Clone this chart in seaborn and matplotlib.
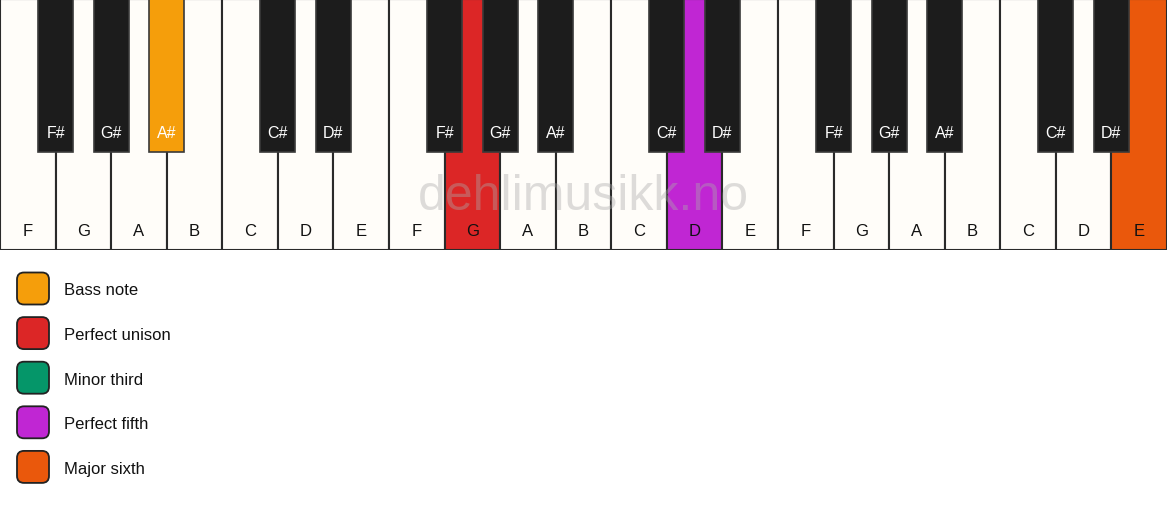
import matplotlib
matplotlib.use('Agg')
import matplotlib.pyplot as plt
import seaborn as sns
from matplotlib.patches import FancyBboxPatch

# Данные клавиатуры
white_notes = ['F', 'G', 'A', 'B', 'C', 'D', 'E'] * 3
black_notes = ['F#', 'G#', 'A#', 'C#', 'D#']
black_after = ['F', 'G', 'A', 'C', 'D']  # чёрная клавиша после этих белых

# Подсвеченные клавиши: индекс -> цвет
white_highlight = {8: '#dc2626', 12: '#c026d3', 20: '#ea580c'}
black_highlight = {2: '#f59e0b'}  # индекс чёрной клавиши по порядку

# Легенда
legend_labels = ['Bass note', 'Perfect unison', 'Minor third', 'Perfect fifth', 'Major sixth']
legend_colors = ['#f59e0b', '#dc2626', '#059669', '#c026d3', '#ea580c']

sns.set_theme(style='white')
plt.rcParams['font.family'] = ['Liberation Sans', 'DejaVu Sans']

W, H = 1167, 506
KB_H = 251
BLACK_H = 153
fig = plt.figure(figsize=(W / 100, H / 100), dpi=100)

# Клавиатура
ax = fig.add_axes([0, 1 - KB_H / H, 1, KB_H / H])
ax.set_xlim(0, len(white_notes))
ax.set_ylim(0, KB_H)
ax.axis('off')

white_x = list(range(len(white_notes)))
white_colors = [white_highlight.get(i, '#fffdf9') for i in white_x]
ax.bar(white_x, [KB_H] * len(white_x), width=1, align='edge', color=white_colors,
       edgecolor='#2a2a2a', linewidth=1.5, zorder=1)
for i, n in enumerate(white_notes):
    ax.text(i + 0.5, KB_H - 231, n, ha='center', va='center', fontsize=12, color='#111', zorder=4)

bx, blabels = [], []
for i, n in enumerate(white_notes):
    if n in black_after:
        bx.append(i + 1)
        blabels.append(black_notes[black_after.index(n)])
bcolors = [black_highlight.get(k, '#1c1c1c') for k in range(len(bx))]
ax.bar(bx, [BLACK_H] * len(bx), bottom=KB_H - BLACK_H, width=0.63, color=bcolors,
       edgecolor='#3a3a3a', linewidth=1.2, zorder=2)
for x, lab in zip(bx, blabels):
    ax.text(x, KB_H - 134, lab, ha='center', va='center', fontsize=11.5,
            color='white', zorder=4)

# Водяной знак
ax.text(len(white_notes) / 2, KB_H - 197, 'dehlimusikk.no', ha='center', va='center',
        fontsize=36, color='#aaaaaa', alpha=0.4, zorder=3)

# Легенда
lax = fig.add_axes([0, 0, 1, 1 - KB_H / H])
lax.set_xlim(0, W)
lax.set_ylim(H, KB_H)
lax.axis('off')
for k, (lab, col) in enumerate(zip(legend_labels, legend_colors)):
    yc = 289.5 + k * 44.6
    lax.add_patch(FancyBboxPatch((17, yc - 16), 32, 32,
                                 boxstyle='round,pad=0,rounding_size=7',
                                 facecolor=col, edgecolor='#222', linewidth=1.3))
    lax.text(64, yc + 1.5, lab, ha='left', va='center', fontsize=12, color='#111')

fig.savefig('out.png', dpi=100)
plt.close()
